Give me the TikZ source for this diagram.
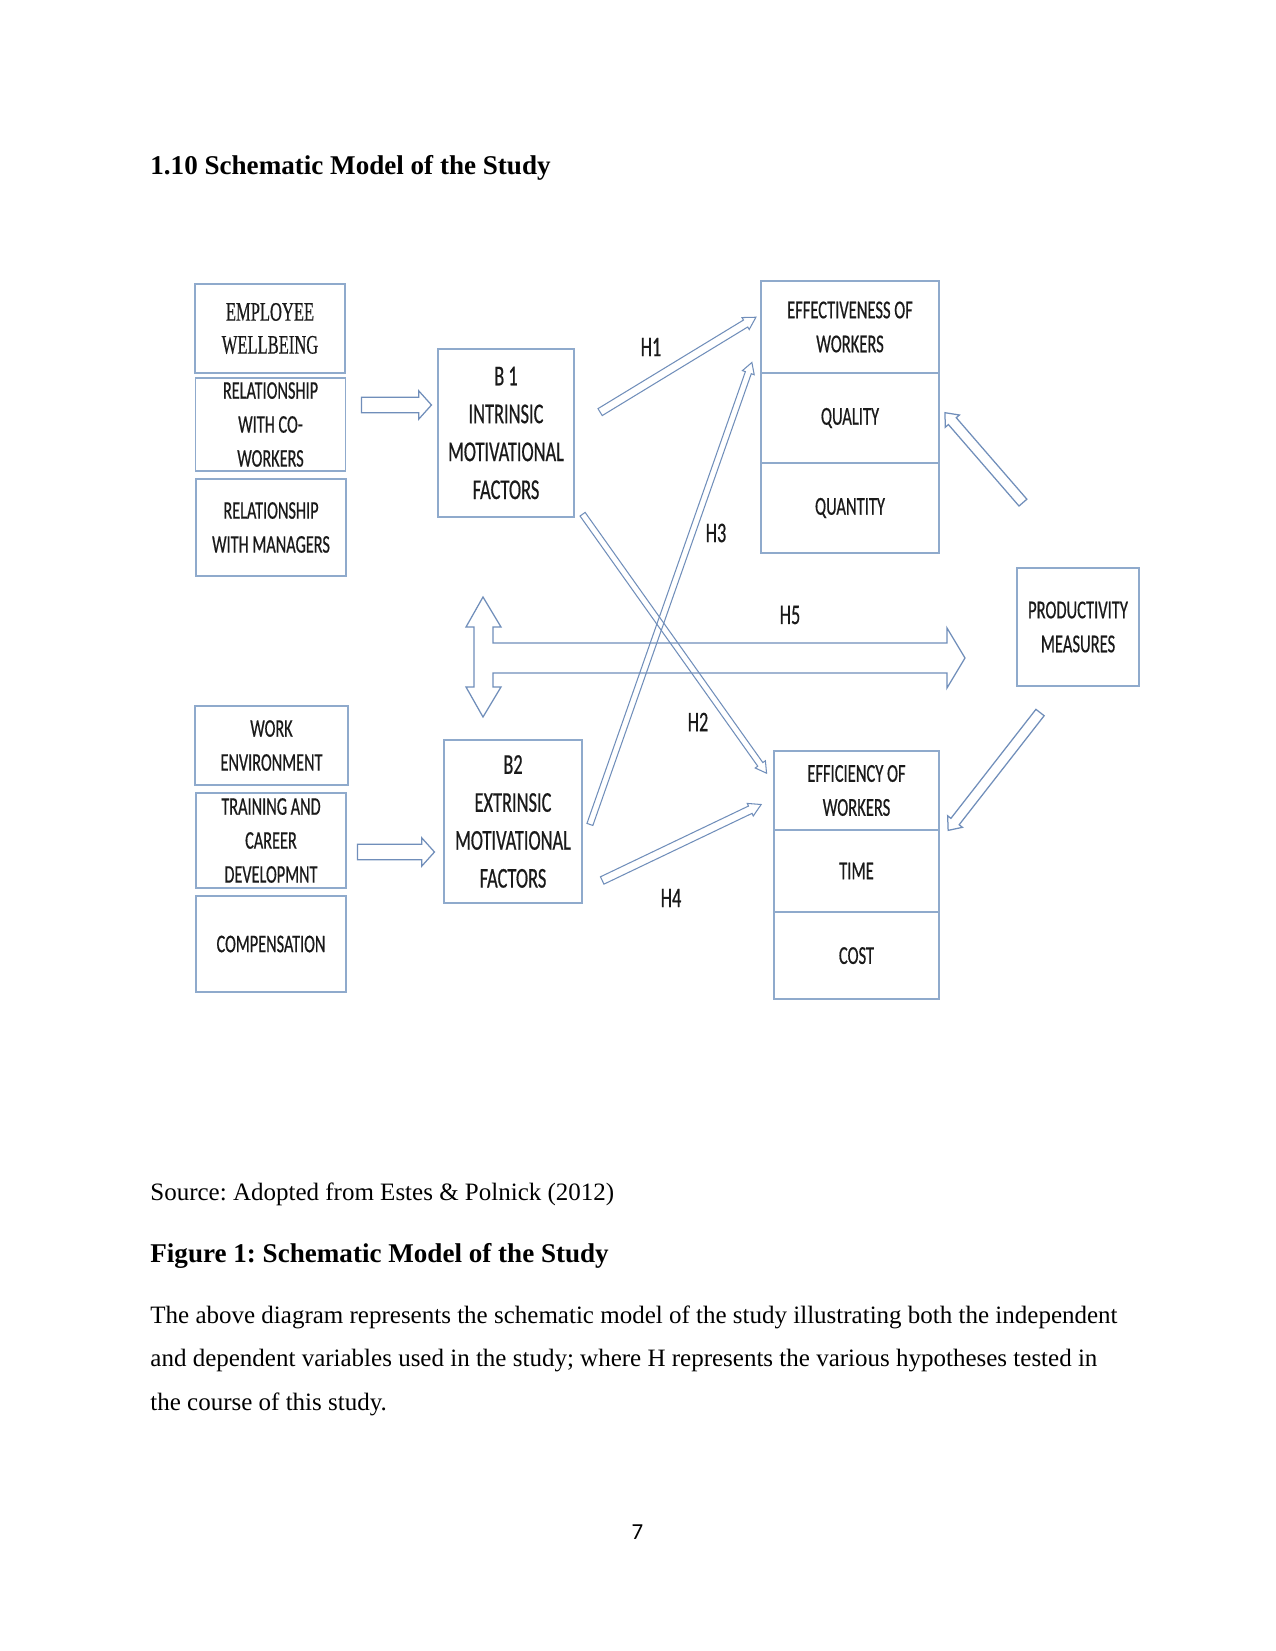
\documentclass[tikz,border=0pt]{standalone}
\usepackage{fontspec}
\setmainfont{Liberation Serif}
\newfontfamily\boxfont[FakeStretch=0.64, FakeBold=0.5]{Carlito}
\newfontfamily\boxserif[FakeStretch=0.62, FakeBold=0.5]{Liberation Serif}
\newfontfamily\pagefont{Carlito}
\usetikzlibrary{shapes.arrows, positioning, calc}

\definecolor{boxline}{RGB}{143,170,204}
\definecolor{arrline}{RGB}{112,142,186}
\definecolor{boxtext}{RGB}{26,26,26}

% hollow arrow between two points: [style]{from}{to}{name}
\newcommand{\hollowarrow}[4][]{%
  \path let \p1=($(#3)-(#2)$), \n1={atan2(\y1,\x1)}, \n2={veclen(\x1,\y1)} in
    node[#1, minimum height=\n2, rotate=\n1] (#4) at ($(#2)!0.5!(#3)$) {};}

\frenchspacing
\begin{document}
\begin{tikzpicture}[x=0.48pt, y=-0.48pt,
  box/.style={draw=boxline, line width=0.75pt, outer sep=0pt, align=center, text=boxtext, inner sep=1pt},
  lbox/.style={box, minimum width=72pt, font=\boxfont\fontsize{12.2}{16.3}\selectfont},
  bbox/.style={box, font=\boxfont\fontsize{13.8}{18.2}\selectfont},
  rbox/.style={box, font=\boxfont\fontsize{12.4}{16.3}\selectfont},
  hlabel/.style={text=boxtext, font=\boxfont\fontsize{13.6}{15}\selectfont},
  pagetext/.style={anchor=base west, inner sep=0pt, font=\fontsize{12}{14}\selectfont},
  bigarr/.style={single arrow, draw=arrline, line width=0.6pt, inner xsep=0pt, inner ysep=3.4pt, single arrow head extend=3.1pt, single arrow tip angle=96},
  thinarr/.style={single arrow, draw=arrline, line width=0.5pt, inner xsep=0pt, inner ysep=1.7pt, single arrow head extend=1.4pt, single arrow tip angle=60},
  slimarr/.style={thinarr, inner ysep=1.25pt, single arrow head extend=1.5pt},
  sidearr/.style={single arrow, draw=arrline, line width=0.6pt, inner xsep=0pt, inner ysep=2.2pt, single arrow head extend=2pt, single arrow tip angle=80}]

	\path[use as bounding box, fill=white] (0,0) rectangle (1275,1651);

	% Page text
	\node[pagetext, font=\fontsize{13}{15}\selectfont\bfseries] (title) at (150,175) {1.10 Schematic Model of the Study};
	\node[pagetext] (source) at (150,1200) {Source: Adopted from Estes \& Polnick (2012)};
	\node[pagetext, font=\fontsize{13}{15}\selectfont\bfseries] (caption) at (150,1262) {Figure 1: Schematic Model of the Study};
	\node[pagetext] (para1) at (150,1323) {The above diagram represents the schematic model of the study illustrating both the independent};
	\node[pagetext] (para2) at (150,1366) {and dependent variables used in the study; where H represents the various hypotheses tested in};
	\node[pagetext] (para3) at (150,1410) {the course of this study.};
	\node[font=\pagefont\fontsize{11}{13}\selectfont, anchor=base, inner sep=0pt] (pagenum) at (637.5,1539) {7};

	% Intrinsic factors
	\node[lbox, minimum height=42.7pt, font=\boxserif\fontsize{12.8}{15.8}\selectfont] (wellbeing) at (270,328.5) {EMPLOYEE\\WELLBEING};
	\node[lbox, minimum height=44.6pt] (coworkers) at (270.5,424.5) {RELATIONSHIP\\WITH CO-\\WORKERS};
	\node[lbox, minimum height=46.6pt] (managers) at (271,527.5) {RELATIONSHIP\\WITH MANAGERS};

	% Extrinsic factors
	\node[lbox, minimum width=73.4pt, minimum height=37.9pt] (workenv) at (271.5,745.5) {WORK\\ENVIRONMENT};
	\node[lbox, minimum height=45.6pt] (training) at (271,840.5) {TRAINING AND\\CAREER\\DEVELOPMNT};
	\node[lbox, minimum height=46.1pt] (compensation) at (271,944) {COMPENSATION};

	% B1 and B2
	\node[bbox, minimum width=65.3pt, minimum height=80.6pt] (intrinsic) at (506,433) {B 1\\INTRINSIC\\MOTIVATIONAL\\FACTORS};
	\node[bbox, minimum width=66.2pt, minimum height=78.2pt] (extrinsic) at (513,821.5) {B2\\EXTRINSIC\\MOTIVATIONAL\\FACTORS};

	% Effectiveness
	\node[rbox, minimum width=85.4pt, minimum height=44.2pt] (effective) at (850,327) {EFFECTIVENESS OF\\WORKERS};
	\node[rbox, minimum width=85.4pt, minimum height=43.2pt, below=0pt of effective] (quality) {QUALITY};
	\node[rbox, minimum width=85.4pt, minimum height=43.2pt, below=0pt of quality] (quantity) {QUANTITY};

	% Efficiency
	\node[rbox, minimum width=79.2pt, minimum height=37.9pt] (efficient) at (856.5,790.5) {EFFICIENCY OF\\WORKERS};
	\node[rbox, minimum width=79.2pt, minimum height=39.4pt, below=0pt of efficient] (time) {TIME};
	\node[rbox, minimum width=79.2pt, minimum height=41.8pt, below=0pt of time] (cost) {COST};

	% Productivity
	\node[rbox, minimum width=58.6pt, minimum height=56.6pt] (productivity) at (1078,627) {PRODUCTIVITY\\MEASURES};

	% Arrow ends
	\coordinate (in1) at (358,405);   \coordinate (in2) at (428,405);
	\coordinate (ex1) at (354,852);   \coordinate (ex2) at (431,852);
	\coordinate (h1s) at (597,414);   \coordinate (h1e) at (753,319);
	\coordinate (h2s) at (581,512);   \coordinate (h2e) at (765,771);
	\coordinate (h3s) at (589,827);   \coordinate (h3e) at (751,365);
	\coordinate (h4s) at (599,882);   \coordinate (h4e) at (758,806);
	\coordinate (pm1s) at (1025,505); \coordinate (pm1e) at (947,415);
	\coordinate (pm2s) at (1042,710); \coordinate (pm2e) at (950,828);

	\hollowarrow[bigarr]{in1}{in2}{inarrow}
	\hollowarrow[bigarr]{ex1}{ex2}{exarrow}
	\hollowarrow[thinarr]{h1s}{h1e}{h1arrow}
	\hollowarrow[slimarr]{h2s}{h2e}{h2arrow}
	\hollowarrow[slimarr]{h3s}{h3e}{h3arrow}
	\hollowarrow[thinarr]{h4s}{h4e}{h4arrow}
	\hollowarrow[sidearr]{pm1s}{pm1e}{pmarrow1}
	\hollowarrow[sidearr]{pm2s}{pm2e}{pmarrow2}

	% H5 with the up-down arrow
	\draw[arrline, line width=0.6pt] (483,597) -- (501,627) -- (493,627) -- (493,643) -- (947,643) -- (947,628) -- (965,658) -- (947,688) -- (947,673) -- (493,673) -- (493,687) -- (501,687) -- (483,717) -- (466,687) -- (474,687) -- (474,627) -- (466,627) -- cycle;

	% Hypotheses
	\node[hlabel] (h1) at (651,347) {H1};
	\node[hlabel] (h2) at (698,722) {H2};
	\node[hlabel] (h3) at (716,533) {H3};
	\node[hlabel] (h4) at (671,898) {H4};
	\node[hlabel] (h5) at (790,615) {H5};

\end{tikzpicture}
\end{document}
